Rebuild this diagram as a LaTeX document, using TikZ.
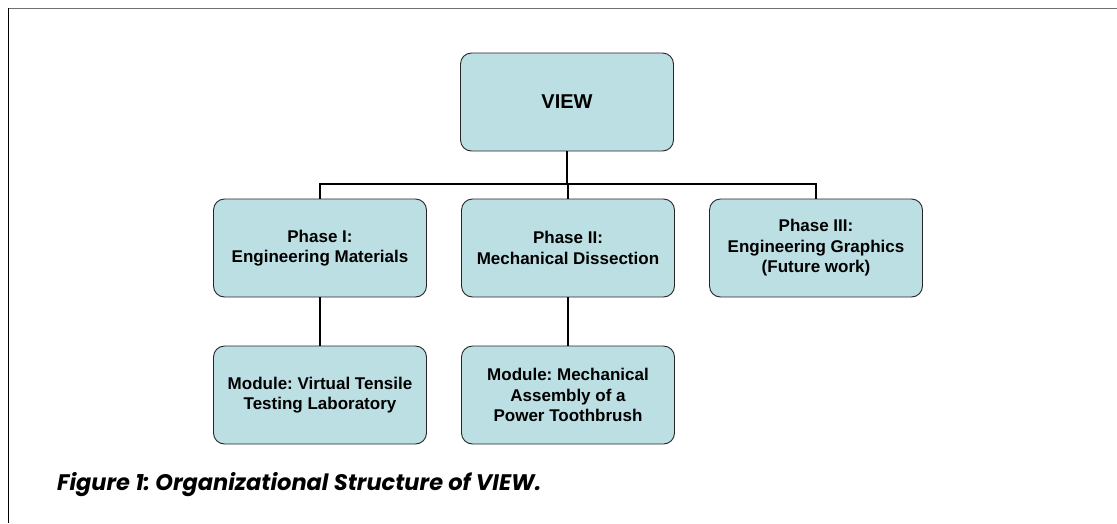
\documentclass[tikz,border=0pt]{standalone}
\usepackage{fontspec}
\setmainfont{Liberation Sans}
\newfontfamily\capfont{Poppins}
\definecolor{boxblue}{RGB}{188,223,227}
\definecolor{framegray}{RGB}{112,112,112}
\tikzset{
  orgbox/.style={draw=black!85, line width=0.9pt, fill=boxblue, rounded corners=11pt,
    minimum width=213pt, minimum height=98pt, align=center, inner sep=0pt,
    font=\fontsize{17}{20.5}\selectfont\bfseries},
  link/.style={line width=2.8pt}
}
\frenchspacing
\begin{document}
\begin{tikzpicture}[x=1pt, y=-1pt]

\useasboundingbox (0,0) rectangle (1117,523);
\draw[framegray, line width=1.5pt] (8,8.5) -- (1117,8.5);
\draw[line width=1pt] (8,8) -- (8,523);

\node[orgbox, font=\fontsize{20}{24}\selectfont\bfseries] (view) at (567,102) {VIEW};
\node[orgbox] (p1) at (320,248) {Phase I:\\Engineering Materials};
\node[orgbox] (p2) at (568,248) {Phase II:\\Mechanical Dissection};
\node[orgbox] (p3) at (816,248) {Phase III:\\Engineering Graphics\\(Future work)};
\node[orgbox] (m1) at (320,395) {Module: Virtual Tensile\\Testing Laboratory};
\node[orgbox] (m2) at (568,395) {Module: Mechanical\\Assembly of a\\Power Toothbrush};

\coordinate (bus) at (568,184);
\draw[link] (view.south) -- (view.south |- bus);
\draw[link] (p1.north) -- (p1.north |- bus) -- (p3.north |- bus) -- (p3.north);
\draw[link] (p2.north) -- (p2.north |- bus);
\draw[link] (p1.south) -- (m1.north);
\draw[link] (p2.south) -- (m2.north);

\node[anchor=base west, inner sep=0pt, font=\capfont\fontsize{22.5}{26}\selectfont\bfseries\itshape] (caption) at (57,490)
  {Figure 1: Organizational Structure of VIEW.};

\end{tikzpicture}
\end{document}
